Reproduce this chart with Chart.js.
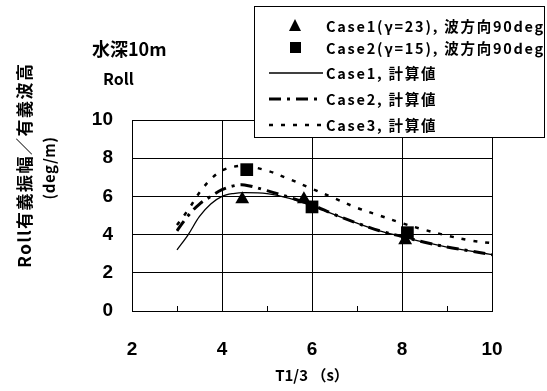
<!DOCTYPE html>
<html><head><meta charset="utf-8">
<script src="https://cdn.jsdelivr.net/npm/chart.js@4.4.1/dist/chart.umd.min.js"></script>
<style>
html,body{margin:0;padding:0;background:#fff;}
#wrap{position:relative;width:547px;height:391px;overflow:hidden;background:#fff;}
#c{position:absolute;left:0;top:0;}
.t{position:absolute;font-family:"Noto Sans CJK JP","Liberation Sans",sans-serif;font-weight:bold;color:#000;white-space:nowrap;line-height:1;}
#legend{position:absolute;left:254px;top:6px;width:289px;height:130px;border:1.5px solid #000;background:#fff;}
.row{position:absolute;left:0;height:20px;width:100%;}
.row svg{position:absolute;left:12px;top:0;}
.row span{position:absolute;left:71px;top:1px;font-family:"Noto Sans CJK JP",sans-serif;font-weight:bold;font-size:14.5px;letter-spacing:1.75px;line-height:17px;white-space:nowrap;}
</style></head>
<body><div id="wrap">
<canvas id="c" width="547" height="391"></canvas>
<div class="t" id="title1" style="font-size:18px;left:92px;top:39px;">水深10m</div>
<div class="t" id="title2" style="font-size:16px;left:103px;top:70px;">Roll</div>
<div class="t" id="ytitle1" style="font-size:17px;letter-spacing:1.5px;left:23px;top:165px;transform:translate(-50%,-50%) rotate(-90deg);">Roll有義振幅／有義波高</div>
<div class="t" id="ytitle2" style="font-size:15px;letter-spacing:0.5px;left:48px;top:168px;transform:translate(-50%,-50%) rotate(-90deg);">(deg/m)</div>
<div id="legend"></div>
</div>
<script>
const calcX = [3, 3.25, 3.5, 3.75, 4, 4.25, 4.5, 5, 5.5, 6, 6.5, 7, 7.5, 8, 8.5, 9, 9.5, 10];
const case1Calc = [3.2, 4.0, 4.95, 5.6, 6.0, 6.15, 6.2, 6.15, 5.9, 5.5, 5.05, 4.6, 4.2, 3.9, 3.6, 3.35, 3.15, 2.95];
const case2Calc = [4.2, 5.0, 5.6, 6.0, 6.35, 6.55, 6.6, 6.3, 5.95, 5.55, 5.05, 4.6, 4.2, 3.9, 3.6, 3.35, 3.15, 2.95];
const case3Calc = [4.5, 5.3, 6.2, 6.9, 7.35, 7.55, 7.6, 7.35, 6.9, 6.4, 5.9, 5.4, 5.0, 4.6, 4.25, 3.95, 3.7, 3.55];
const case1MeasX = [4.45, 5.82, 8.07];
const case1Meas = [5.85, 5.85, 3.7];
const case2MeasX = [4.55, 6.0, 8.12];
const case2Meas = [7.4, 5.45, 4.1];
const xTicks = [2, 4, 6, 8, 10];
const yTicks = [0, 2, 4, 6, 8, 10];
const minorX = [3, 5, 7, 9];
const labels = ['Case1(γ=23), 波方向90deg', 'Case2(γ=15), 波方向90deg', 'Case1, 計算値', 'Case2, 計算値', 'Case3, 計算値'];

const pts = (xs, ys) => xs.map((x, i) => ({x: x, y: ys[i]}));

const datasets = [
  {label: labels[0], data: pts(case1MeasX, case1Meas), showLine: false, pointStyle: 'triangle', pointRadius: 8, backgroundColor: '#000', borderColor: '#000', borderWidth: 0, order: 0},
  {label: labels[1], data: pts(case2MeasX, case2Meas), showLine: false, pointStyle: 'rect', pointRadius: 9, backgroundColor: '#000', borderColor: '#000', borderWidth: 0, order: 0},
  {label: labels[2], data: pts(calcX, case1Calc), showLine: true, pointRadius: 0, borderColor: '#000', borderWidth: 1.3, borderDash: [], tension: 0.35, order: 1},
  {label: labels[3], data: pts(calcX, case2Calc), showLine: true, pointRadius: 0, borderColor: '#000', borderWidth: 3, borderDash: [12, 6, 3, 6], tension: 0.35, order: 1},
  {label: labels[4], data: pts(calcX, case3Calc), showLine: true, pointRadius: 0, borderColor: '#000', borderWidth: 2.5, borderDash: [4, 8], tension: 0.35, order: 1}
];

const minorTicks = {
  id: 'minorTicks',
  afterDatasetsDraw(chart) {
    const ctx = chart.ctx, xs = chart.scales.x, ys = chart.scales.y;
    ctx.save();
    ctx.strokeStyle = '#000'; ctx.lineWidth = 1;
    minorX.forEach(v => {
      const px = Math.round(xs.getPixelForValue(v)) + 0.5;
      ctx.beginPath(); ctx.moveTo(px, ys.bottom); ctx.lineTo(px, ys.bottom - 5); ctx.stroke();
    });
    ctx.restore();
  }
};

new Chart(document.getElementById('c'), {
  type: 'scatter',
  data: {datasets: datasets},
  options: {
    responsive: false, animation: false, devicePixelRatio: 1,
    layout: {padding: {top: 120, right: 55, left: 0, bottom: 0}},
    plugins: {legend: {display: false}, tooltip: {enabled: false}},
    scales: {
      x: {
        type: 'linear', min: 2, max: 10,
        afterBuildTicks: s => { s.ticks = xTicks.map(v => ({value: v})); },
        afterFit: s => { s.height = 80; },
        grid: {color: '#000', lineWidth: 1, drawTicks: false},
        border: {color: '#000', width: 1},
        ticks: {color: '#000', padding: 27, font: {family: 'Liberation Sans', size: 19, weight: 'bold'}},
        title: {display: true, text: 'T1/3 （s）', color: '#000', padding: {top: 0, bottom: 7}, font: {family: 'Noto Sans CJK JP', size: 15, weight: 'bold'}}
      },
      y: {
        type: 'linear', min: 0, max: 10,
        afterBuildTicks: s => { s.ticks = yTicks.map(v => ({value: v})); },
        afterFit: s => { s.width = 132; },
        grid: {color: '#000', lineWidth: 1, drawTicks: false},
        border: {color: '#000', width: 1},
        ticks: {color: '#000', padding: 19, font: {family: 'Liberation Sans', size: 19, weight: 'bold'}}
      }
    }
  },
  plugins: [minorTicks]
});

// HTML legend built from datasets
const legendEl = document.getElementById('legend');
const rowTops = [9, 31, 56, 82, 108];
datasets.forEach((ds, i) => {
  const row = document.createElement('div');
  row.className = 'row';
  row.style.top = rowTops[i] + 'px';
  let svg;
  if (ds.showLine) {
    svg = '<svg width="56" height="20"><line x1="2" y1="10" x2="56" y2="10" stroke="#000" stroke-width="' + ds.borderWidth + '" stroke-dasharray="' + (ds.borderDash.length ? ds.borderDash.join(',') : 'none') + '"/></svg>';
  } else if (ds.pointStyle === 'triangle') {
    svg = '<svg width="56" height="20"><polygon points="28,3 34,15 22,15" fill="#000"/></svg>';
  } else {
    svg = '<svg width="56" height="20"><rect x="23" y="4" width="11" height="11" fill="#000"/></svg>';
  }
  row.innerHTML = svg + '<span>' + ds.label + '</span>';
  legendEl.appendChild(row);
});
</script>
</body></html>
